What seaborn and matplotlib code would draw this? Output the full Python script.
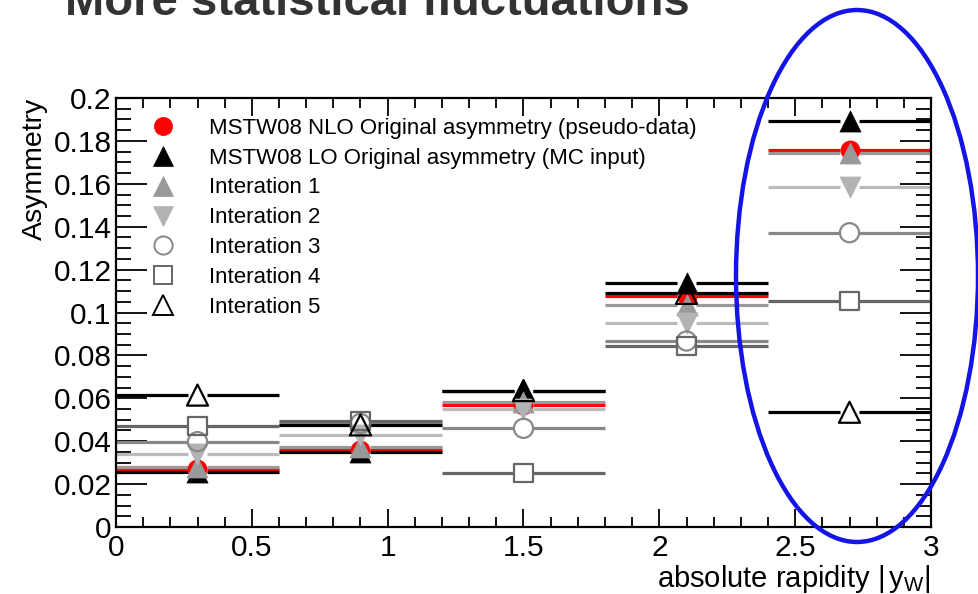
import matplotlib
matplotlib.use("Agg")
import matplotlib.pyplot as plt
import seaborn as sns
import numpy as np
from matplotlib.lines import Line2D
from matplotlib.patches import Ellipse
from matplotlib.ticker import MultipleLocator, FuncFormatter

# ---------------- data ----------------
bin_edges = [0.0, 0.6, 1.2, 1.8, 2.4, 3.0]
bin_centers = [0.3, 0.9, 1.5, 2.1, 2.7]

nlo_orig = [0.0270, 0.0360, 0.0569, 0.1078, 0.1758]
lo_orig = [0.0258, 0.0351, 0.0636, 0.1139, 0.1894]
iter1 = [0.0281, 0.0374, 0.0584, 0.1035, 0.1745]
iter2 = [0.0340, 0.0429, 0.0549, 0.0950, 0.1587]
iter3 = [0.0398, 0.0483, 0.0460, 0.0867, 0.1372]
iter4 = [0.0471, 0.0496, 0.0250, 0.0844, 0.1055]
iter5 = [0.0615, 0.0476, 0.0636, 0.1089, 0.0535]

labels = [
    "MSTW08 NLO Original asymmetry (pseudo-data)",
    "MSTW08 LO Original asymmetry (MC input)",
    "Interation 1",
    "Interation 2",
    "Interation 3",
    "Interation 4",
    "Interation 5",
]

# ---------------- style ----------------
sns.set_theme(style="ticks")
plt.rcParams["font.family"] = ["Liberation Sans", "DejaVu Sans"]
plt.rcParams["mathtext.fontset"] = "custom"
plt.rcParams["mathtext.rm"] = "Liberation Sans"
plt.rcParams["mathtext.it"] = "Liberation Sans:italic"

series = [
    # values, marker, color, filled, line color, size
    (nlo_orig, "o", "#ff0000", True, "#ff0000", 190),
    (lo_orig, "^", "#000000", True, "#000000", 230),
    (iter1, "^", "#999999", True, "#999999", 230),
    (iter2, "v", "#b3b3b3", True, "#bbbbbb", 230),
    (iter3, "o", "#888888", False, "#888888", 190),
    (iter4, "s", "#666666", False, "#666666", 170),
    (iter5, "^", "#000000", False, "#000000", 230),
]

fig = plt.figure(figsize=(9.79, 5.94), dpi=100)
ax = fig.add_axes([116 / 979, 1 - 527 / 594, (931 - 116) / 979, (527 - 98) / 594])
ax.set_facecolor("white")
fig.patch.set_facecolor("white")

left = np.array(bin_edges[:-1])
right = np.array(bin_edges[1:])
cent = np.array(bin_centers)
gap = 0.036

for vals, mk, col, filled, lcol, s in series:
    v = np.array(vals)
    ax.hlines(v, left, cent - gap, colors=lcol, lw=2.3, zorder=2)
    ax.hlines(v, cent + gap, right, colors=lcol, lw=2.3, zorder=2)
    if filled:
        sns.scatterplot(x=cent, y=v, marker=mk, s=s, facecolor=col,
                        edgecolor=col, linewidth=0.5, ax=ax, zorder=3, legend=False)
    else:
        sns.scatterplot(x=cent, y=v, marker=mk, s=s, facecolor="none",
                        edgecolor=col, linewidth=1.6, ax=ax, zorder=3, legend=False)

ax.set_xlim(0, 3)
ax.set_ylim(0, 0.2)

fmt = FuncFormatter(lambda v, p: ("%g" % round(v, 4)))
ax.xaxis.set_major_locator(MultipleLocator(0.5))
ax.xaxis.set_minor_locator(MultipleLocator(0.1))
ax.yaxis.set_major_locator(MultipleLocator(0.02))
ax.yaxis.set_minor_locator(MultipleLocator(0.005))
ax.xaxis.set_major_formatter(fmt)
ax.yaxis.set_major_formatter(fmt)

ax.tick_params(axis="both", which="both", direction="in", top=True, right=True,
               colors="black", labelsize=21.5, width=1.3)
ax.tick_params(axis="x", which="major", length=13, pad=5)
ax.tick_params(axis="x", which="minor", length=7)
ax.tick_params(axis="y", which="major", length=22, pad=3)
ax.tick_params(axis="y", which="minor", length=11)
for sp in ax.spines.values():
    sp.set_color("black")
    sp.set_linewidth(1.6)

ax.set_xlabel(r"absolute rapidity $|\,\mathrm{y}_{\mathrm{W}}|$", fontsize=21,
              loc="right", labelpad=1, color="black")
ax.set_ylabel("Asymmetry", fontsize=20.5, loc="top", labelpad=4, color="black")

# legend
handles = []
for vals, mk, col, filled, lcol, s in series:
    handles.append(Line2D([], [], ls="none", marker=mk, markersize=np.sqrt(s) * 0.95,
                          markerfacecolor=col if filled else "none",
                          markeredgecolor=col, markeredgewidth=1.4 if not filled else 0.5))
leg = ax.legend(handles, labels, loc="upper left", bbox_to_anchor=(0.03, 0.975),
                frameon=False, fontsize=16, handlelength=1.2, handletextpad=1.5,
                labelspacing=0.4, borderaxespad=0)
for t in leg.get_texts():
    t.set_color("black")

# clipped slide title at top
fig.text(65 / 979, 1 - 15 / 594, "More statistical fluctuations", fontsize=34,
         fontweight="bold", color="#333333", ha="left", va="baseline")

# highlight ellipse
ell = Ellipse((857 / 979, 1 - 276 / 594), 242 / 979, 532 / 594,
              transform=fig.transFigure, fill=False, edgecolor="#1414e6", lw=3.2)
fig.add_artist(ell)

fig.savefig("out.png", dpi=100, facecolor="white")
